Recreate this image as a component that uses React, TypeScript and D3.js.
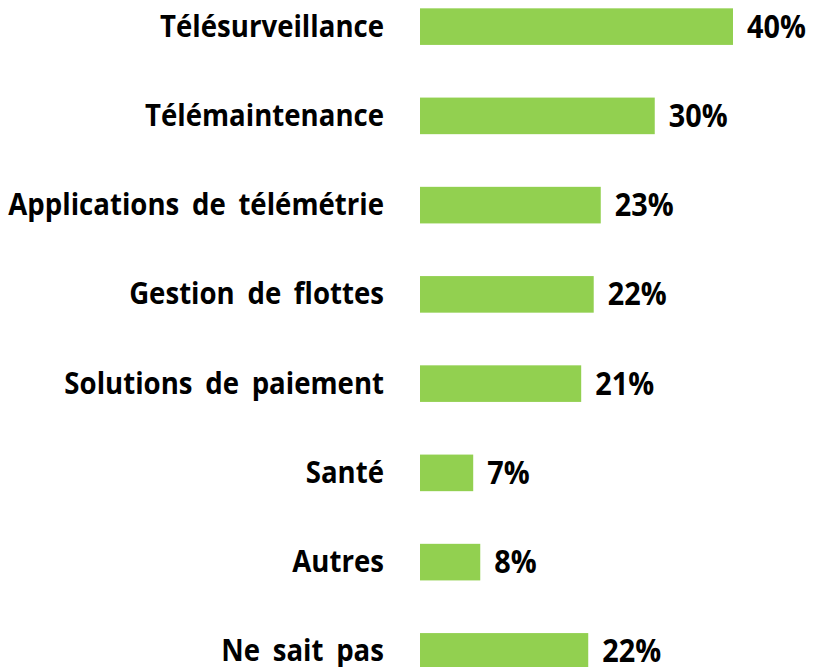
import React from "react";
import * as d3 from "d3";

const categories = [
  "Télésurveillance",
  "Télémaintenance",
  "Applications de télémétrie",
  "Gestion de flottes",
  "Solutions de paiement",
  "Santé",
  "Autres",
  "Ne sait pas",
];
const values = [40.0, 30.0, 23.1, 22.2, 20.6, 6.8, 7.7, 21.5];

const W = 813;
const H = 667;

export default function App() {
  const x = d3.scaleLinear().domain([0, 40]).range([420, 733]);
  const y = d3
    .scaleBand<string>()
    .domain(categories)
    .range([-18, 696])
    .paddingInner(0.59)
    .paddingOuter(0.295);
  const bw = y.bandwidth();
  const font = "'Open Sans', sans-serif";
  return (
    <svg
      width={W}
      height={H}
      style={{ position: "absolute", left: 0, top: 0, background: "#fff" }}
    >
      {categories.map((c, i) => {
        const yy = y(c)!;
        const cy = yy + bw / 2;
        return (
          <g key={c}>
            <rect x={x(0)} y={yy} width={x(values[i]) - x(0)} height={bw} fill="#92D050" />
            <text
              transform={`translate(384,${cy + 10}) scale(0.92,1)`}
              textAnchor="end"
              fontFamily={font}
              fontWeight={700}
              fontSize={30}
              wordSpacing={6}
              fill="#000"
            >
              {c}
            </text>
            <text
              transform={`translate(${x(values[i]) + 14},${cy + 11}) scale(0.9,1)`}
              fontFamily={font}
              fontWeight={700}
              fontSize={32}
              fill="#000"
            >
              {Math.round(values[i])}%
            </text>
          </g>
        );
      })}
    </svg>
  );
}
